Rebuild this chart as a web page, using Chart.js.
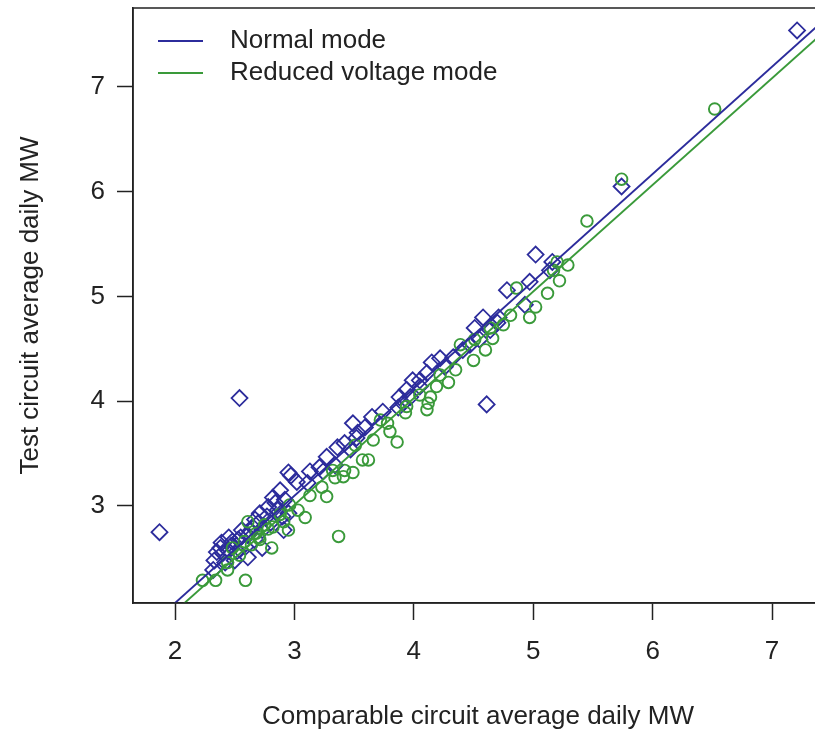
<!DOCTYPE html>
<html>
<head>
<meta charset="utf-8">
<script src="https://cdn.jsdelivr.net/npm/chart.js@4/dist/chart.umd.min.js"></script>
<style>
  html, body { margin: 0; padding: 0; background: #fff; overflow: hidden; }
  #wrap { width: 830px; height: 733px; }
</style>
</head>
<body>
<div id="wrap"><canvas id="c" width="830" height="733"></canvas></div>
<script>
// ---- data ----
const seriesNames = ["Normal mode", "Reduced voltage mode"];
const xTitle = "Comparable circuit average daily MW";
const yTitle = "Test circuit average daily MW";
const xTickValues = [2, 3, 4, 5, 6, 7];
const yTickValues = [3, 4, 5, 6, 7];
const xRange = [1.648, 7.427];
const yRange = [2.074, 7.754];

const normalX = [1.87,2.54,7.21,5.74,4.61,5.02,5.16,4.97,4.78,4.93,4.58,4.71,4.51,4.55,4.70,4.64,4.47,4.41,4.33,4.22,
  4.26,4.15,4.11,3.99,3.94,4.05,3.88,3.97,3.91,3.87,3.74,3.65,3.59,3.49,3.52,3.42,3.36,3.47,3.27,3.34,
  3.24,3.53,3.21,3.13,2.95,3.02,3.11,2.88,2.82,2.92,2.78,2.86,2.71,2.80,2.95,2.73,2.84,2.90,2.91,2.65,
  2.56,2.48,2.39,2.35,2.61,2.50,2.42,2.33,2.59,2.73,2.44,2.32,5.14,2.67,2.53,2.61,2.38,4.05,2.97,
  2.40,2.47,2.55,2.63,2.70,2.77,2.45,2.52];
const normalY = [2.75,4.03,7.54,6.05,3.97,5.40,5.33,5.14,5.06,4.92,4.80,4.80,4.70,4.59,4.75,4.68,4.54,4.49,4.42,4.41,
  4.33,4.37,4.27,4.20,4.11,4.14,4.04,4.04,3.98,3.94,3.90,3.85,3.75,3.79,3.65,3.60,3.56,3.54,3.47,3.39,
  3.33,3.70,3.37,3.33,3.32,3.23,3.22,3.15,3.08,3.06,2.99,2.96,2.93,2.84,2.93,2.77,3.03,2.90,2.77,2.80,
  2.77,2.66,2.65,2.56,2.51,2.48,2.46,2.48,2.61,2.60,2.58,2.39,5.25,2.87,2.68,2.72,2.60,4.20,3.29,
  2.55,2.62,2.70,2.76,2.84,2.90,2.70,2.57];

const reducedX = [2.59,3.37,6.52,5.74,5.45,5.29,5.22,5.12,4.97,5.02,4.86,4.75,4.64,4.60,5.20,5.17,4.50,4.35,4.29,4.19,
  4.14,4.12,4.11,3.94,3.86,3.80,3.66,3.62,3.78,3.93,3.32,3.41,3.49,3.57,3.42,3.34,3.23,3.27,3.09,3.03,
  2.82,2.95,2.81,2.61,2.70,2.91,2.34,2.44,2.23,2.71,2.44,4.39,4.81,4.51,4.05,3.72,3.51,3.13,2.96,2.75,
  2.54,2.48,2.64,4.22,4.66,2.58,2.68,2.78,2.88];
const reducedY = [2.29,2.71,6.79,6.12,5.72,5.30,5.15,5.03,4.80,4.90,5.08,4.73,4.70,4.49,5.33,5.25,4.39,4.30,4.18,4.14,
  4.04,3.98,3.92,3.95,3.61,3.71,3.63,3.44,3.79,3.89,3.34,3.28,3.32,3.44,3.34,3.27,3.18,3.09,2.89,2.96,
  2.80,2.77,2.60,2.85,2.70,2.85,2.29,2.39,2.29,2.68,2.46,4.54,4.82,4.59,4.06,3.82,3.58,3.10,3.01,2.82,
  2.53,2.60,2.63,4.25,4.60,2.66,2.74,2.78,2.92];

// fitted lines: [intercept, slope]
const fitNormal = [0.026, 1.024];
const fitReduced = [-0.043, 1.018];

// ---- styles ----
const blue = "#2c2c9c";
const green = "#3a9a3a";
const ink = "#222222";
const FONT = "'Liberation Sans', Arial, Helvetica, sans-serif";

const toPts = (xs, ys) => xs.map((x, i) => ({ x, y: ys[i] }));
const fitPts = (f) => xRange.map(x => ({ x, y: f[0] + f[1] * x }));

const framePlugin = {
  id: 'frame',
  afterDatasetsDraw(chart) {
    const { ctx, chartArea: a } = chart;
    ctx.save();
    ctx.strokeStyle = ink;
    ctx.lineWidth = 1.5;
    ctx.strokeRect(a.left, a.top, a.right - a.left, a.bottom - a.top);
    ctx.restore();
  }
};

const legendPlugin = {
  id: 'insideLegend',
  afterDraw(chart) {
    const { ctx, chartArea: a } = chart;
    const items = [chart.data.datasets[0], chart.data.datasets[1]];
    ctx.save();
    ctx.font = "26px " + FONT;
    ctx.textBaseline = 'middle';
    ctx.textAlign = 'left';
    items.forEach((ds, i) => {
      const y = a.top + 33 + i * 32;
      ctx.strokeStyle = ds.borderColor;
      ctx.lineWidth = 2;
      ctx.beginPath();
      ctx.moveTo(a.left + 25, y);
      ctx.lineTo(a.left + 70, y);
      ctx.stroke();
      ctx.fillStyle = ink;
      ctx.fillText(ds.label, a.left + 97, y);
    });
    ctx.restore();
  }
};

new Chart(document.getElementById('c'), {
  type: 'scatter',
  data: {
    datasets: [
      { label: seriesNames[0], data: fitPts(fitNormal), showLine: true, pointRadius: 0,
        borderColor: blue, borderWidth: 1.9, fill: false },
      { label: seriesNames[1], data: fitPts(fitReduced), showLine: true, pointRadius: 0,
        borderColor: green, borderWidth: 1.9, fill: false },
      { label: seriesNames[1] + " points", data: toPts(reducedX, reducedY), pointStyle: 'circle',
        pointRadius: 5.8, pointBorderWidth: 1.9, borderColor: green, backgroundColor: 'rgba(0,0,0,0)',
        pointBackgroundColor: 'rgba(0,0,0,0)', pointBorderColor: green },
      { label: seriesNames[0] + " points", data: toPts(normalX, normalY), pointStyle: 'rectRot',
        pointRadius: 8, pointBorderWidth: 1.8, borderColor: blue, backgroundColor: 'rgba(0,0,0,0)',
        pointBackgroundColor: 'rgba(0,0,0,0)', pointBorderColor: blue }
    ]
  },
  options: {
    responsive: false,
    animation: false,
    devicePixelRatio: 1,
    layout: { autoPadding: false, padding: { top: 8, right: 7, left: 0, bottom: 0 } },
    plugins: { legend: { display: false }, tooltip: { enabled: false } },
    scales: {
      x: {
        type: 'linear', min: xRange[0], max: xRange[1],
        afterBuildTicks: (s) => { s.ticks = xTickValues.map(v => ({ value: v })); },
        afterFit: (s) => { s.height = 130; s.paddingLeft = 0; s.paddingRight = 0; },
        ticks: { font: { size: 26, family: FONT }, color: ink, padding: 16, maxRotation: 0 },
        grid: { drawOnChartArea: false, drawTicks: true, tickLength: 17, tickColor: ink, tickWidth: 1.5 },
        border: { display: true, color: ink, width: 1.5 },
        title: { display: true, text: xTitle, color: ink, font: { size: 26, family: FONT },
                 padding: { top: 0, bottom: 1 } }
      },
      y: {
        type: 'linear', min: yRange[0], max: yRange[1],
        afterBuildTicks: (s) => { s.ticks = yTickValues.map(v => ({ value: v })); },
        afterFit: (s) => { s.width = 133; s.paddingTop = 0; s.paddingBottom = 0; },
        ticks: { font: { size: 26, family: FONT }, color: ink, padding: 12 },
        grid: { drawOnChartArea: false, drawTicks: true, tickLength: 16, tickColor: ink, tickWidth: 1.5 },
        border: { display: true, color: ink, width: 1.5 },
        title: { display: true, text: yTitle, color: ink, font: { size: 26, family: FONT },
                 padding: { top: 15, bottom: 0 } }
      }
    }
  },
  plugins: [framePlugin, legendPlugin]
});
</script>
</body>
</html>
